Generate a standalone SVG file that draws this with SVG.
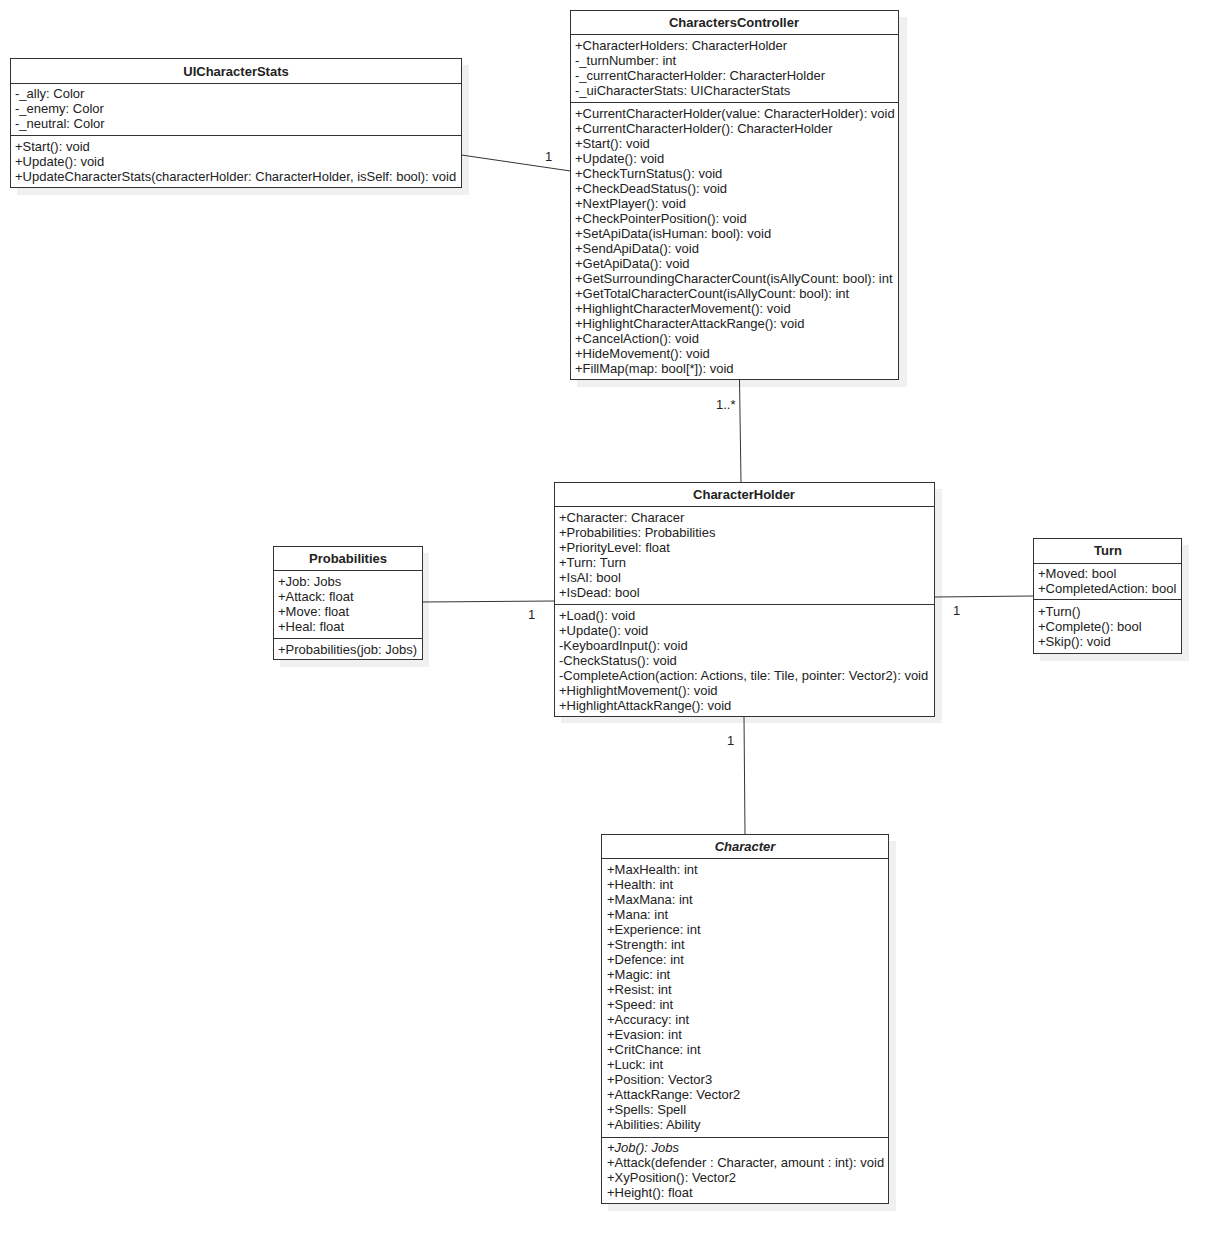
<svg xmlns="http://www.w3.org/2000/svg" width="1221" height="1244" viewBox="0 0 1221 1244">
  <style>
    .shadow { fill: #f0f0f0; }
    .box { fill: #ffffff; stroke: #333333; stroke-width: 1; }
    .div { stroke: #333333; stroke-width: 1; }
    .title { font-family: "Liberation Sans", Arial, sans-serif; font-size: 13px; font-weight: bold; fill: #222222; text-anchor: middle; }
    .t { font-family: "Liberation Sans", Arial, sans-serif; font-size: 13px; fill: #222222; }
    .it { font-style: italic; }
    .conn { stroke: #333333; stroke-width: 1; fill: none; }
    .lbl { font-family: "Liberation Sans", Arial, sans-serif; font-size: 13px; fill: #222222; }
  </style>
  <rect width="1221" height="1244" fill="#ffffff"/>

  <!-- UICharacterStats -->
  <g id="UICharacterStats">
    <rect class="shadow" x="17" y="65" width="452" height="130"/>
    <rect class="box" x="10.5" y="58.5" width="451" height="129"/>
    <line class="div" x1="10.5" y1="83.5" x2="461.5" y2="83.5"/>
    <line class="div" x1="10.5" y1="135.5" x2="461.5" y2="135.5"/>
    <text class="title" x="236" y="76">UICharacterStats</text>
    <text class="t" x="15" y="98">-_ally: Color</text>
    <text class="t" x="15" y="113">-_enemy: Color</text>
    <text class="t" x="15" y="128">-_neutral: Color</text>
    <text class="t" x="15" y="151">+Start(): void</text>
    <text class="t" x="15" y="166">+Update(): void</text>
    <text class="t" x="15" y="181">+UpdateCharacterStats(characterHolder: CharacterHolder, isSelf: bool): void</text>
  </g>

  <!-- CharactersController -->
  <g id="CharactersController">
    <rect class="shadow" x="577" y="17" width="330" height="370"/>
    <rect class="box" x="570.5" y="10.5" width="328" height="369"/>
    <line class="div" x1="570.5" y1="34.5" x2="898.5" y2="34.5"/>
    <line class="div" x1="570.5" y1="102.5" x2="898.5" y2="102.5"/>
    <text class="title" x="734" y="27">CharactersController</text>
    <text class="t" x="575" y="50">+CharacterHolders: CharacterHolder</text>
    <text class="t" x="575" y="65">-_turnNumber: int</text>
    <text class="t" x="575" y="80">-_currentCharacterHolder: CharacterHolder</text>
    <text class="t" x="575" y="95">-_uiCharacterStats: UICharacterStats</text>
    <text class="t" x="575" y="118">+CurrentCharacterHolder(value: CharacterHolder): void</text>
    <text class="t" x="575" y="133">+CurrentCharacterHolder(): CharacterHolder</text>
    <text class="t" x="575" y="148">+Start(): void</text>
    <text class="t" x="575" y="163">+Update(): void</text>
    <text class="t" x="575" y="178">+CheckTurnStatus(): void</text>
    <text class="t" x="575" y="193">+CheckDeadStatus(): void</text>
    <text class="t" x="575" y="208">+NextPlayer(): void</text>
    <text class="t" x="575" y="223">+CheckPointerPosition(): void</text>
    <text class="t" x="575" y="238">+SetApiData(isHuman: bool): void</text>
    <text class="t" x="575" y="253">+SendApiData(): void</text>
    <text class="t" x="575" y="268">+GetApiData(): void</text>
    <text class="t" x="575" y="283">+GetSurroundingCharacterCount(isAllyCount: bool): int</text>
    <text class="t" x="575" y="298">+GetTotalCharacterCount(isAllyCount: bool): int</text>
    <text class="t" x="575" y="313">+HighlightCharacterMovement(): void</text>
    <text class="t" x="575" y="328">+HighlightCharacterAttackRange(): void</text>
    <text class="t" x="575" y="343">+CancelAction(): void</text>
    <text class="t" x="575" y="358">+HideMovement(): void</text>
    <text class="t" x="575" y="373">+FillMap(map: bool[*]): void</text>
  </g>

  <!-- CharacterHolder -->
  <g id="CharacterHolder">
    <rect class="shadow" x="561" y="489" width="381" height="234"/>
    <rect class="box" x="554.5" y="482.5" width="380" height="234"/>
    <line class="div" x1="554.5" y1="506.5" x2="934.5" y2="506.5"/>
    <line class="div" x1="554.5" y1="604.5" x2="934.5" y2="604.5"/>
    <text class="title" x="744" y="499">CharacterHolder</text>
    <text class="t" x="559" y="522">+Character: Characer</text>
    <text class="t" x="559" y="537">+Probabilities: Probabilities</text>
    <text class="t" x="559" y="552">+PriorityLevel: float</text>
    <text class="t" x="559" y="567">+Turn: Turn</text>
    <text class="t" x="559" y="582">+IsAI: bool</text>
    <text class="t" x="559" y="597">+IsDead: bool</text>
    <text class="t" x="559" y="620">+Load(): void</text>
    <text class="t" x="559" y="635">+Update(): void</text>
    <text class="t" x="559" y="650">-KeyboardInput(): void</text>
    <text class="t" x="559" y="665">-CheckStatus(): void</text>
    <text class="t" x="559" y="680">-CompleteAction(action: Actions, tile: Tile, pointer: Vector2): void</text>
    <text class="t" x="559" y="695">+HighlightMovement(): void</text>
    <text class="t" x="559" y="710">+HighlightAttackRange(): void</text>
  </g>

  <!-- Probabilities -->
  <g id="Probabilities">
    <rect class="shadow" x="280" y="553" width="149" height="114"/>
    <rect class="box" x="273.5" y="546.5" width="149" height="113"/>
    <line class="div" x1="273.5" y1="570.5" x2="422.5" y2="570.5"/>
    <line class="div" x1="273.5" y1="638.5" x2="422.5" y2="638.5"/>
    <text class="title" x="348" y="563">Probabilities</text>
    <text class="t" x="278" y="586">+Job: Jobs</text>
    <text class="t" x="278" y="601">+Attack: float</text>
    <text class="t" x="278" y="616">+Move: float</text>
    <text class="t" x="278" y="631">+Heal: float</text>
    <text class="t" x="278" y="654">+Probabilities(job: Jobs)</text>
  </g>

  <!-- Turn -->
  <g id="Turn">
    <rect class="shadow" x="1040" y="545" width="149" height="116"/>
    <rect class="box" x="1033.5" y="538.5" width="148" height="115"/>
    <line class="div" x1="1033.5" y1="563.5" x2="1181.5" y2="563.5"/>
    <line class="div" x1="1033.5" y1="599.5" x2="1181.5" y2="599.5"/>
    <text class="title" x="1108" y="555">Turn</text>
    <text class="t" x="1038" y="578">+Moved: bool</text>
    <text class="t" x="1038" y="593">+CompletedAction: bool</text>
    <text class="t" x="1038" y="616">+Turn()</text>
    <text class="t" x="1038" y="631">+Complete(): bool</text>
    <text class="t" x="1038" y="646">+Skip(): void</text>
  </g>

  <!-- Character (abstract) -->
  <g id="Character">
    <rect class="shadow" x="608" y="841" width="288" height="370"/>
    <rect class="box" x="601.5" y="834.5" width="287" height="369"/>
    <line class="div" x1="601.5" y1="858.5" x2="888.5" y2="858.5"/>
    <line class="div" x1="601.5" y1="1137.5" x2="888.5" y2="1137.5"/>
    <text class="title it" x="745" y="851">Character</text>
    <text class="t" x="607" y="874">+MaxHealth: int</text>
    <text class="t" x="607" y="889">+Health: int</text>
    <text class="t" x="607" y="904">+MaxMana: int</text>
    <text class="t" x="607" y="919">+Mana: int</text>
    <text class="t" x="607" y="934">+Experience: int</text>
    <text class="t" x="607" y="949">+Strength: int</text>
    <text class="t" x="607" y="964">+Defence: int</text>
    <text class="t" x="607" y="979">+Magic: int</text>
    <text class="t" x="607" y="994">+Resist: int</text>
    <text class="t" x="607" y="1009">+Speed: int</text>
    <text class="t" x="607" y="1024">+Accuracy: int</text>
    <text class="t" x="607" y="1039">+Evasion: int</text>
    <text class="t" x="607" y="1054">+CritChance: int</text>
    <text class="t" x="607" y="1069">+Luck: int</text>
    <text class="t" x="607" y="1084">+Position: Vector3</text>
    <text class="t" x="607" y="1099">+AttackRange: Vector2</text>
    <text class="t" x="607" y="1114">+Spells: Spell</text>
    <text class="t" x="607" y="1129">+Abilities: Ability</text>
    <text class="t it" x="607" y="1152">+Job(): Jobs</text>
    <text class="t" x="607" y="1167">+Attack(defender : Character, amount : int): void</text>
    <text class="t" x="607" y="1182">+XyPosition(): Vector2</text>
    <text class="t" x="607" y="1197">+Height(): float</text>
  </g>

  <!-- associations, drawn over the box shadows -->
  <g id="connectors">
    <line class="conn" x1="461.5" y1="155" x2="570.5" y2="171"/>
    <text class="lbl" x="545" y="161">1</text>
    <line class="conn" x1="739.5" y1="380" x2="741" y2="482"/>
    <text class="lbl" x="716" y="409">1..*</text>
    <line class="conn" x1="422.5" y1="602" x2="554.5" y2="601"/>
    <text class="lbl" x="528" y="619">1</text>
    <line class="conn" x1="934.5" y1="597" x2="1033.5" y2="596"/>
    <text class="lbl" x="953" y="615">1</text>
    <line class="conn" x1="744" y1="717" x2="745" y2="834"/>
    <text class="lbl" x="727" y="745">1</text>
  </g>
</svg>
